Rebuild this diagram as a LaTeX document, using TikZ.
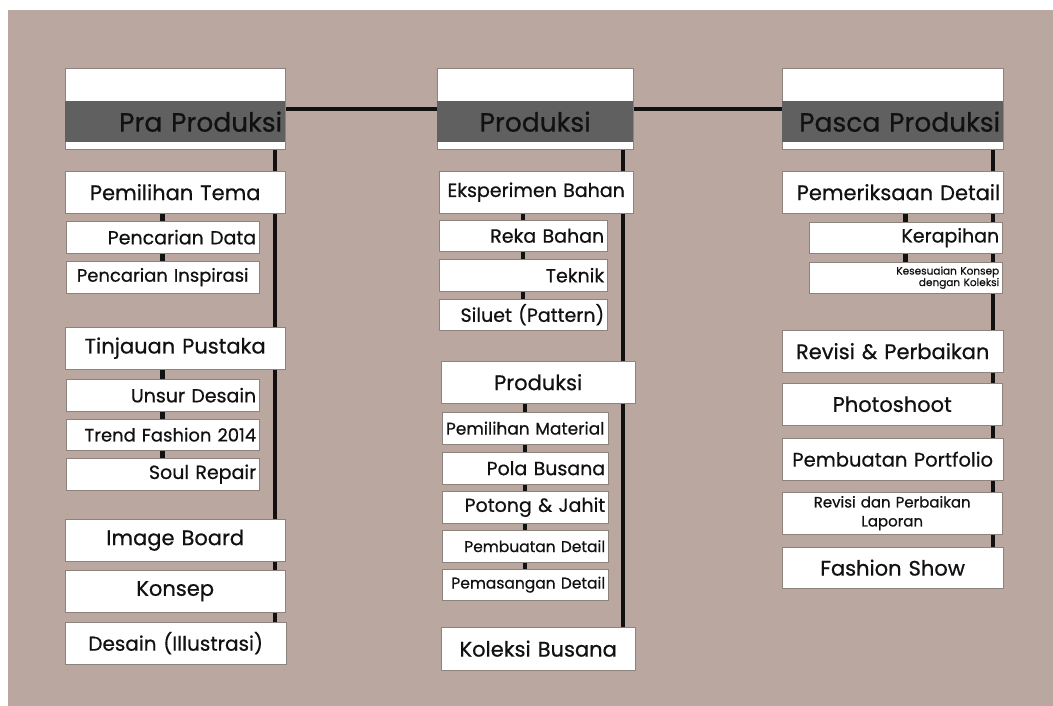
\documentclass[tikz,border=0pt]{standalone}
\usepackage{fontspec}
\setmainfont{Poppins}[FakeBold=0.6]
\usetikzlibrary{positioning}
\definecolor{bgbrown}{RGB}{186,167,159}
\definecolor{band}{RGB}{96,96,96}
\definecolor{rim}{RGB}{140,130,126}
\definecolor{ink}{RGB}{17,17,17}
\pgfdeclarelayer{back}
\pgfsetlayers{back,main}

\begin{document}
\begin{tikzpicture}[
  x=1pt, y=-1pt,
  stage/.style={draw=rim, fill=white, inner sep=0pt, minimum height=81pt,
    anchor=north west},
  title/.style={fill=band, text=ink, inner xsep=3pt, inner ysep=0pt,
    minimum height=41pt, anchor=north west,
    font=\fontsize{26.5}{28}\selectfont},
  task/.style={draw=rim, fill=white, text=ink, inner xsep=3pt, inner ysep=0pt,
    minimum height=42pt, anchor=north west, align=center,
    font=\fontsize{21}{23}\selectfont},
  subtask/.style={task, minimum height=32pt, align=right,
    font=\fontsize{19}{21}\selectfont},
  small/.style={font=\fontsize{15.5}{17}\selectfont},
  spine/.style={line width=4pt, ink},
  twig/.style={line width=4.5pt, ink},
  ]
  \useasboundingbox (0,0) rectangle (1053,706);
  \begin{pgfonlayer}{back}
    \fill[bgbrown] (8,10) rectangle (1053,706);
  \end{pgfonlayer}

  % Pra Produksi
  \node[stage, minimum width=220pt] (pra) at (65,68) {};
  \node[title, text width=214pt, align=right] (pratxt) at (65,101) {Pra Produksi};
  \node[task, text width=214pt] (tema) at (65,171) {Pemilihan Tema};
  \node[subtask, text width=187pt] (data) at (66,221) {Pencarian Data};
  \node[subtask, text width=187pt, align=center,
    font=\fontsize{18}{20}\selectfont] (inspi) at (66,261) {Pencarian Inspirasi};
  \node[task, text width=214pt] (pustaka) at (65,327) {Tinjauan Pustaka};
  \node[subtask, text width=187pt] (unsur) at (66,379) {Unsur Desain};
  \node[subtask, text width=187pt, minimum height=31pt,
    font=\fontsize{18}{20}\selectfont] (trend) at (66,419) {Trend Fashion 2014};
  \node[subtask, text width=187pt] (soul) at (66,458) {Soul Repair};
  \node[task, text width=214pt] (board) at (65,519) {Image Board};
  \node[task, text width=214pt] (konsep) at (65,570) {Konsep};
  \node[task, text width=215pt, font=\fontsize{20}{22}\selectfont] (desain) at (65,622) {Desain (Illustrasi)};

  % Produksi
  \node[stage, minimum width=196pt] (prod) at (437,68) {};
  \node[title, text width=190pt, align=center] (prodtxt) at (437,101) {Produksi};
  \node[task, text width=188pt, font=\fontsize{19}{21}\selectfont] (eksp) at (439,171) {Eksperimen Bahan};
  \node[subtask, text width=162pt, minimum height=31pt] (reka) at (439,220) {Reka Bahan};
  \node[subtask, text width=162pt] (teknik) at (439,259) {Teknik};
  \node[subtask, text width=162pt, minimum height=31pt] (siluet) at (439,299) {Siluet (Pattern)};
  \node[task, text width=188pt] (prodsub) at (441,361) {Produksi};
  \node[subtask, text width=160pt, align=center,
    font=\fontsize{17}{19}\selectfont] (material) at (442,412) {Pemilihan Material};
  \node[subtask, text width=160pt] (pola) at (442,452) {Pola Busana};
  \node[subtask, text width=160pt] (potong) at (442,491) {Potong \& Jahit};
  \node[subtask, small, text width=160pt] (pembuatan) at (442,530) {Pembuatan Detail};
  \node[subtask, small, text width=160pt, minimum height=31pt] (pemasangan) at (442,569) {Pemasangan Detail};
  \node[task, text width=188pt, minimum height=43pt] (koleksi) at (441,627) {Koleksi Busana};

  % Pasca Produksi
  \node[stage, minimum width=221pt] (pasca) at (782,68) {};
  \node[title, text width=215pt, align=right] (pascatxt) at (782,101) {Pasca Produksi};
  \node[task, text width=215pt, align=right] (periksa) at (782,171) {Pemeriksaan Detail};
  \node[subtask, text width=187pt, minimum height=31pt] (rapi) at (809,222) {Kerapihan};
  \node[subtask, text width=187pt, minimum height=31pt,
    font=\fontsize{10.5}{11.5}\selectfont] (sesuai) at (809,262) {Kesesuaian Konsep\\dengan Koleksi};
  \node[task, text width=215pt] (revisi) at (782,330) {Revisi \& Perbaikan};
  \node[task, text width=214pt] (foto) at (782,383) {Photoshoot};
  \node[task, text width=215pt, font=\fontsize{19.5}{21}\selectfont] (porto) at (782,438) {Pembuatan Portfolio};
  \node[task, text width=214pt, font=\fontsize{15}{19}\selectfont] (laporan) at (782,492) {Revisi dan Perbaikan\\Laporan};
  \node[task, text width=215pt, minimum height=41pt] (fashion) at (782,547) {Fashion Show};

  \begin{pgfonlayer}{back}
    % Stages
    \draw[spine] (pra.east) -- (prod.west);
    \draw[spine] (prod.east) -- (pasca.west);
    \draw[spine] ([xshift=-10pt]pra.south east) -- ([xshift=-10pt]pra.south east |- desain.north);
    \draw[spine] ([xshift=-10pt]prod.south east) -- ([xshift=-10pt]prod.south east |- koleksi.north);
    \draw[spine] ([xshift=-10pt]pasca.south east) -- ([xshift=-10pt]pasca.south east |- fashion.north);
    % Sub steps
    \draw[twig] (data.north) -- (data.north |- tema.south);
    \draw[twig] (inspi.north) -- (inspi.north |- data.south);
    \draw[twig] (unsur.north) -- (unsur.north |- pustaka.south);
    \draw[twig] (trend.north) -- (trend.north |- unsur.south);
    \draw[twig] (soul.north) -- (soul.north |- trend.south);
    \draw[twig] (reka.north) -- (reka.north |- eksp.south);
    \draw[twig] (teknik.north) -- (teknik.north |- reka.south);
    \draw[twig] (siluet.north) -- (siluet.north |- teknik.south);
    \draw[twig] (material.north) -- (material.north |- prodsub.south);
    \draw[twig] (pola.north) -- (pola.north |- material.south);
    \draw[twig] (potong.north) -- (potong.north |- pola.south);
    \draw[twig] (pembuatan.north) -- (pembuatan.north |- potong.south);
    \draw[twig] (pemasangan.north) -- (pemasangan.north |- pembuatan.south);
    \draw[twig] (rapi.north) -- (rapi.north |- periksa.south);
    \draw[twig] (sesuai.north) -- (sesuai.north |- rapi.south);
  \end{pgfonlayer}
\end{tikzpicture}
\end{document}
